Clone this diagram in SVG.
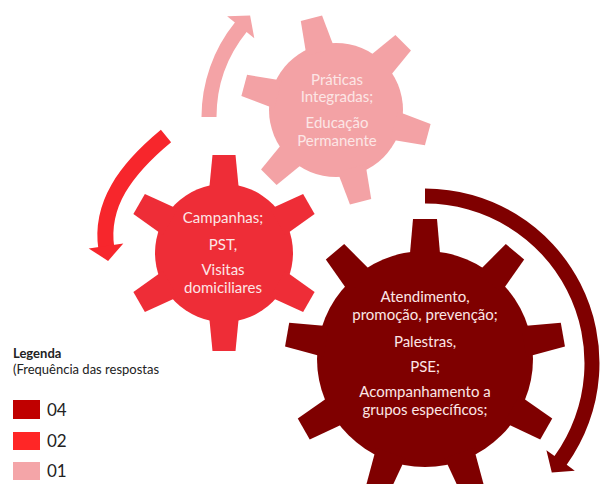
<svg xmlns="http://www.w3.org/2000/svg" width="600" height="484" viewBox="0 0 600 484">
<style>
.lbl{font-family:Lato,"Liberation Sans",sans-serif;font-size:15px;text-anchor:middle;fill:#FCE6E6}
.leg{font-family:Lato,"Liberation Sans",sans-serif;fill:#222}
</style>
<defs>
<polygon id="t9" points="-12,-140 12,-140 15.5,-100 -15.5,-100"/>
<polygon id="t6r" points="-11.5,-98 11.5,-98 15,-62 -15,-62"/>
<polygon id="t6p" points="-11,-95 11,-95 14.5,-60 -14.5,-60"/>
</defs>
<rect width="600" height="484" fill="#fff"/>
<g id="connectors">
<path id="arrow-pink" fill="#F4A3A6" d="M201.5,117 A150.5,150.5 0 0 1 234.9,22.5 L227.1,16.2 L250.1,15.5 L254.3,38.2 L246.6,31.9 A135.5,135.5 0 0 0 216.5,117 Z"/>
<g id="arrow-red" fill="#F7262C">
<path d="M166,136 C125,170 100,205 106.3,248" fill="none" stroke="#F7262C" stroke-width="16"/>
<polygon points="123.3,243.6 108.1,260.9 88.7,248.4"/>
</g>
<path id="arrow-dark" fill="#7F0000" d="M425,188.5 A174.5,174.5 0 0 1 566.7,464.8 L574.8,470.7 L551.8,472.6 L546.4,450.2 L554.5,456.1 A159.5,159.5 0 0 0 425,203.5 Z"/>
</g>
<g id="gear-dark" fill="#7F0000">
<circle cx="425" cy="359" r="108"/>
<use href="#t9" transform="translate(425 359)"/>
<use href="#t9" transform="translate(425 359) rotate(40)"/>
<use href="#t9" transform="translate(425 359) rotate(80)"/>
<use href="#t9" transform="translate(425 359) rotate(120)"/>
<use href="#t9" transform="translate(425 359) rotate(160)"/>
<use href="#t9" transform="translate(425 359) rotate(200)"/>
<use href="#t9" transform="translate(425 359) rotate(240)"/>
<use href="#t9" transform="translate(425 359) rotate(280)"/>
<use href="#t9" transform="translate(425 359) rotate(320)"/>
<text class="lbl" x="425" y="302">Atendimento,</text>
<text class="lbl" x="425" y="320">promoção, prevenção;</text>
<text class="lbl" x="425" y="347">Palestras,</text>
<text class="lbl" x="425" y="372">PSE;</text>
<text class="lbl" x="425" y="397">Acompanhamento a</text>
<text class="lbl" x="425" y="415">grupos específicos;</text>
</g>
<g id="gear-red" fill="#EE2D37">
<circle cx="224" cy="253" r="69"/>
<use href="#t6r" transform="translate(224 253)"/>
<use href="#t6r" transform="translate(224 253) rotate(60)"/>
<use href="#t6r" transform="translate(224 253) rotate(120)"/>
<use href="#t6r" transform="translate(224 253) rotate(180)"/>
<use href="#t6r" transform="translate(224 253) rotate(240)"/>
<use href="#t6r" transform="translate(224 253) rotate(300)"/>
<text class="lbl" x="223" y="223">Campanhas;</text>
<text class="lbl" x="223" y="250">PST,</text>
<text class="lbl" x="223" y="275">Visitas</text>
<text class="lbl" x="223" y="293">domiciliares</text>
</g>
<g id="gear-pink" fill="#F3A2A5">
<circle cx="336" cy="110" r="67"/>
<use href="#t6p" transform="translate(336 110) rotate(-15)"/>
<use href="#t6p" transform="translate(336 110) rotate(45)"/>
<use href="#t6p" transform="translate(336 110) rotate(105)"/>
<use href="#t6p" transform="translate(336 110) rotate(165)"/>
<use href="#t6p" transform="translate(336 110) rotate(225)"/>
<use href="#t6p" transform="translate(336 110) rotate(285)"/>
<text class="lbl" x="337" y="85">Práticas</text>
<text class="lbl" x="337" y="102">Integradas;</text>
<text class="lbl" x="337" y="128">Educação</text>
<text class="lbl" x="337" y="146">Permanente</text>
</g>
<g id="legend">
<text class="leg" x="13" y="358" font-size="13" font-weight="bold">Legenda</text>
<text class="leg" x="13" y="374" font-size="13">(Frequência das respostas</text>
<rect x="13" y="400" width="27" height="19" fill="#C00000"/>
<rect x="13" y="432" width="27" height="18" fill="#FF2626"/>
<rect x="13" y="462" width="27" height="18" fill="#F4A5A8"/>
<text class="leg" x="47" y="416" font-size="17">04</text>
<text class="leg" x="47" y="447" font-size="17">02</text>
<text class="leg" x="47" y="477" font-size="17">01</text>
</g>
</svg>
